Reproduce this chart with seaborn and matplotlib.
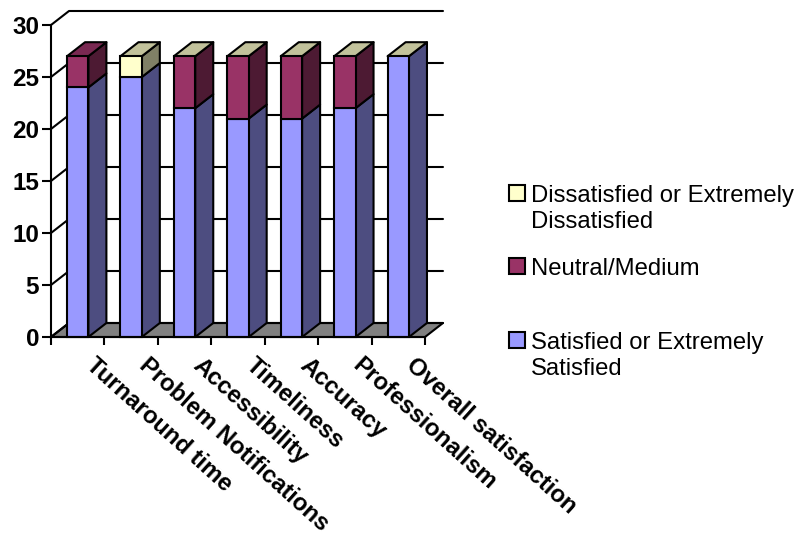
import matplotlib
matplotlib.use("Agg")
import matplotlib.pyplot as plt
from matplotlib.patches import Polygon, Rectangle
from matplotlib.transforms import ScaledTranslation
import numpy as np
import pandas as pd
import seaborn as sns

categories = ["Turnaround time", "Problem Notifications", "Accessibility",
              "Timeliness", "Accuracy", "Professionalism", "Overall satisfaction"]
satisfied = [24, 25, 22, 21, 21, 22, 27]
neutral = [3, 0, 5, 6, 6, 5, 0]
dissatisfied = [np.nan, 2, 0, 0, 0, 0, 0]
y_ticks = [0, 5, 10, 15, 20, 25, 30]

series_names = ["Satisfied or Extremely\nSatisfied", "Neutral/Medium",
                "Dissatisfied or Extremely\nDissatisfied"]
front_colors = ["#9999FF", "#993366", "#FFFFCC"]
side_colors = ["#4D4D80", "#4D1A33", "#808066"]
top_colors = ["#7A7ACC", "#7A2952", "#C2C29B"]

sns.set_theme(style="white")
plt.rcParams["font.family"] = ["Liberation Sans", "DejaVu Sans"]

W, H = 797, 535
fig = plt.figure(figsize=(W / 100, H / 100), dpi=100)
# Front plane of the box: x 51..425 px, y 25..337 px
ax = fig.add_axes([51 / W, 1 - 337 / H, 374 / W, 312 / H])
LW = 1.5
BAR_W = 0.40
DX = 18 / (374 / 7)
DY = 14 / (312 / 30)

df = pd.DataFrame({"category": categories, "satisfied": satisfied,
                   "neutral": neutral, "dissatisfied": dissatisfied})
x = np.arange(len(categories))


def poly(points, color, z):
    ax.add_patch(Polygon(points, closed=True, facecolor=color, edgecolor="black",
                         linewidth=LW, joinstyle="round", clip_on=False, zorder=z))


# Floor and walls behind the columns
poly([(-0.5, 0), (-0.5 + DX, DY), (6.5 + DX, DY), (6.5, 0)], "#808080", 1)
for t in y_ticks:
    ax.plot([-0.5, -0.5 + DX, 6.5 + DX], [t, t + DY, t + DY], color="black",
            lw=LW, clip_on=False, zorder=1.5, solid_joinstyle="round")

# Columns: side faces and tops extruded from the stacked values
base = np.zeros(len(x))
columns = [np.asarray(satisfied, float), np.asarray(neutral, float),
           np.asarray(dissatisfied, float)]
for s, vals in enumerate(columns):
    for i, v in enumerate(vals):
        if np.isnan(v):
            continue
        right = x[i] + BAR_W / 2
        if v > 0:
            b = base[i]
            poly([(right, b), (right + DX, b + DY), (right + DX, b + v + DY), (right, b + v)],
                 side_colors[s], 3 + s + i * 0.01)
    base = base + np.nan_to_num(vals)

# The upper face takes the colour of the last series with a value in that column
for i in range(len(x)):
    s = 1 if np.isnan(dissatisfied[i]) else 2
    top = base[i]
    left = x[i] - BAR_W / 2
    poly([(left, top), (left + DX, top + DY), (left + BAR_W + DX, top + DY), (left + BAR_W, top)],
         top_colors[s], 7)

# Front faces
bottom = np.zeros(len(x))
for s, (col, color) in enumerate(zip(["satisfied", "neutral", "dissatisfied"], front_colors)):
    vals = df[col].fillna(0).to_numpy()
    mask = vals > 0
    sns.barplot(x=df["category"][mask], y=vals[mask], order=categories, color=color,
                saturation=1, width=BAR_W, bottom=bottom[mask], edgecolor="black",
                linewidth=LW, ax=ax, zorder=8, clip_on=False)
    bottom = bottom + vals

ax.set_xlim(-0.5, 6.5)
ax.set_ylim(0, 30)
ax.set_xlabel("")
ax.set_ylabel("")
for name in ["top", "right"]:
    ax.spines[name].set_visible(False)
for name in ["left", "bottom"]:
    ax.spines[name].set_linewidth(LW)
    ax.spines[name].set_color("black")
    ax.spines[name].set_zorder(9)
ax.set_yticks(y_ticks)
ax.set_yticklabels([str(t) for t in y_ticks], fontsize=17.5, fontweight="bold", color="black")
ax.tick_params(axis="y", length=6.5, width=LW, color="black", left=True, pad=2)
ax.set_xticks(x)
ax.set_xticklabels(categories, fontsize=17.2, fontweight="bold", color="black",
                   rotation=-42, ha="left", va="top", rotation_mode="anchor")
ax.tick_params(axis="x", which="major", length=0, pad=12)
nudge = ScaledTranslation(19 / 100, 0, fig.dpi_scale_trans)
for label in ax.get_xticklabels():
    label.set_transform(label.get_transform() + nudge)
ax.set_xticks(np.arange(-0.5, 7, 1), minor=True)
ax.tick_params(axis="x", which="minor", length=5.5, width=LW, color="black", bottom=True)

# Key on the right; swatches sit beside the first line of each entry
swatch_tops = [332, 258, 185]
last_baselines = [375, 275, 228]
for name, color, top, baseline in zip(series_names, front_colors, swatch_tops, last_baselines):
    fig.add_artist(Rectangle((509.5 / W, 1 - (top + 15.5) / H), 15.5 / W, 15.5 / H,
                             transform=fig.transFigure, facecolor=color,
                             edgecolor="black", linewidth=LW))
    fig.text(531 / W, 1 - baseline / H, name, fontsize=17.2, color="black",
             ha="left", va="baseline", linespacing=1.24)

fig.savefig("out.png", dpi=100, facecolor="white")
